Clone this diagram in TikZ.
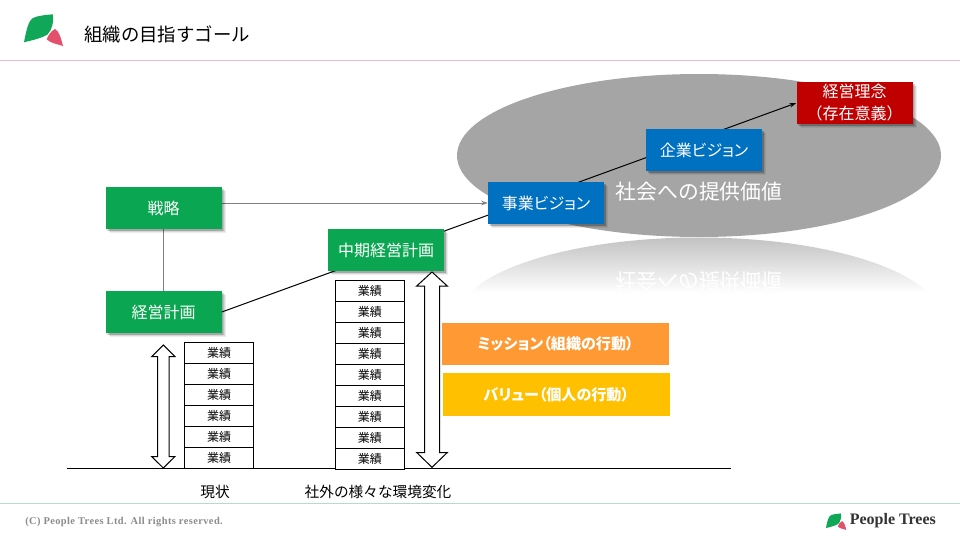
\documentclass[tikz,border=0pt]{standalone}
\usepackage{fontspec}
\setmainfont{Noto Sans CJK JP}
\newfontfamily\jpnarrow[RawFeature=+palt]{Noto Sans CJK JP}
\newfontfamily\latinserif[LetterSpace=4]{Liberation Serif}
\newfontfamily\logoserif{Liberation Serif}
\usetikzlibrary{arrows.meta,shadows}
\definecolor{boxgreen}{HTML}{0AA651}
\definecolor{boxblue}{HTML}{0070C0}
\definecolor{boxred}{HTML}{C00000}
\definecolor{boxorange}{HTML}{FF9933}
\definecolor{boxyellow}{HTML}{FFC000}
\definecolor{ellgray}{HTML}{A5A5A5}
\definecolor{leafgreen}{HTML}{10A858}
\definecolor{leafpink}{HTML}{E2506C}
\definecolor{headrule}{HTML}{E6BCC8}
\definecolor{footrule}{HTML}{B4DCCB}
\pgfdeclarelayer{under}
\pgfsetlayers{under,main}
\newcommand{\leafmark}{%
  \fill[leafgreen] (24,42.3) .. controls (26,32) and (28,21) .. (33,18) .. controls (38,15.5) and (46,15) .. (52.7,14.3) .. controls (54,22) and (52,30) .. (47.5,34.5) .. controls (41,38.5) and (31,40.5) .. (24,42.3) -- cycle;
  \fill[leafpink] (55,29) .. controls (59,31) and (61,38) .. (63,46) .. controls (57,44) and (50,43) .. (46.7,39.3) .. controls (48,35.5) and (51,31) .. (55,29) -- cycle;
}
\tikzset{
  x=0.75pt,y=-0.75pt,
  softshadow/.style={
    drop shadow={shadow xshift=3pt,shadow yshift=-3pt,fill=black,opacity=.07},
    drop shadow={shadow xshift=2.4pt,shadow yshift=-2.4pt,fill=black,opacity=.09},
    drop shadow={shadow xshift=1.8pt,shadow yshift=-1.8pt,fill=black,opacity=.11},
    drop shadow={shadow xshift=1.2pt,shadow yshift=-1.2pt,fill=black,opacity=.13}},
  flowbox/.style={minimum width=87pt,minimum height=31.5pt,inner sep=0pt,text=white,font=\fontsize{12}{16.5}\selectfont,align=center,softshadow},
  greenbox/.style={flowbox,fill=boxgreen},
  bluebox/.style={flowbox,fill=boxblue,font=\jpnarrow\fontsize{12}{14.4}\selectfont},
  redbox/.style={flowbox,fill=boxred},
  bandbox/.style={minimum width=170.25pt,minimum height=32pt,inner sep=0pt,text=white,font=\jpnarrow\bfseries\fontsize{11.3}{12}\selectfont},
  cell/.style={draw=black,line width=0.75pt,fill=white,minimum width=51.75pt,minimum height=15.75pt,inner sep=0pt,font=\fontsize{9}{10}\selectfont},
  dblarrow/.style={draw=black,line width=0.75pt,fill=white},
  plainlabel/.style={inner sep=0pt,text=black,font=\fontsize{11}{13}\selectfont},
  graylink/.style={draw=black!50,line width=0.6pt},
  blacklink/.style={draw=black,line width=0.75pt},
}
\begin{document}
\begin{tikzpicture}
\useasboundingbox (0,0) rectangle (960,540);

\begin{pgfonlayer}{under}
\fill[white] (0,0) rectangle (960,540);
% ellipse and its reflection
\fill[ellgray] (699,155.5) ellipse [x radius=242,y radius=81.5];
\begin{scope}
  \clip (699,319) ellipse [x radius=242,y radius=81.5];
  \shade[top color=black!24,bottom color=white] (457,237) rectangle (941,293);
\end{scope}
\begin{scope}
  \clip (457,237) rectangle (941,292);
  \node[yscale=-1,text=white,inner sep=0pt,font=\fontsize{15.6}{18}\selectfont] (valuemirror) at (699,281) {社会への提供価値};
\end{scope}
\end{pgfonlayer}

% header
\leafmark
\node[anchor=west,inner sep=0pt,text=black,font=\fontsize{13.8}{16}\selectfont] (title) at (84,34) {組織の目指すゴール};
\draw[headrule,line width=1pt] (0,60.5) -- (960,60.5);

\node[text=white,inner sep=0pt,font=\fontsize{15.6}{18}\selectfont] (value) at (699,191.5) {社会への提供価値};

% flow boxes
\node[greenbox] (senryaku) at (163.5,208) {戦略};
\node[greenbox] (keikaku) at (163.5,312) {経営計画};
\node[greenbox] (chuki) at (386,250) {中期経営計画};
\node[bluebox] (jigyo) at (546,203) {事業ビジョン};
\node[bluebox] (kigyo) at (704,150) {企業ビジョン};
\node[redbox] (rinen) at (854.5,103) {経営理念\\（存在意義）};

\begin{pgfonlayer}{under}
  \draw[blacklink,-{Stealth[length=5pt,width=3.5pt]}] (keikaku.east) -- (rinen.west);
  \draw[graylink,-{Stealth[length=5pt,width=3.5pt]}] (senryaku.east |- jigyo.west) -- (jigyo.west);
  \draw[graylink] (senryaku.south) -- (keikaku.north);
\end{pgfonlayer}

% bands
\node[bandbox,fill=boxorange] (mission) at (555.5,344) {ミッション（組織の行動）};
\node[bandbox,fill=boxyellow] (value2) at (556.3,394.5) {バリュー（個人の行動）};

% base line
\coordinate (baseL) at (67,468.3);
\coordinate (baseR) at (731,468.3);
\draw[blacklink] (baseL) -- (baseR);

% left stack
\foreach \i in {0,...,5} {
  \node[cell] (a\i) at (219,353+21*\i) {業績};
}
% right stack
\foreach \i in {0,...,8} {
  \node[cell] (b\i) at (369.8,291+21*\i) {業績};
}

% double arrows
\draw[dblarrow] (163.3,345) -- (175,356.7) -- (169,356.7) -- (169,456.5) -- (175,456.5) -- (163.3,468) -- (151.6,456.5) -- (157.6,456.5) -- (157.6,356.7) -- (151.6,356.7) -- cycle;
\draw[dblarrow] (432,272) -- (447.3,286) -- (439.5,286) -- (439.5,452.5) -- (447.3,452.5) -- (432,467.3) -- (416.7,452.5) -- (424.5,452.5) -- (424.5,286) -- (416.7,286) -- cycle;

% labels
\node[plainlabel] (genjo) at (215,492) {現状};
\node[plainlabel] (kankyo) at (378,492) {社外の様々な環境変化};

% footer
\draw[footrule,line width=1pt] (0,503.5) -- (960,503.5);
\node[anchor=west,inner sep=0pt,text=black!45,font=\latinserif\bfseries\fontsize{7.8}{9}\selectfont] (copyright) at (25,522) {(C) People Trees Ltd. All rights reserved.};
\begin{scope}[shift={(813.5,506)},scale=0.52]
  \leafmark
\end{scope}
\node[anchor=west,inner sep=0pt,text=black!80,font=\logoserif\bfseries\fontsize{12}{14}\selectfont] (peopletrees) at (849.5,521) {People Trees};
\end{tikzpicture}
\end{document}
